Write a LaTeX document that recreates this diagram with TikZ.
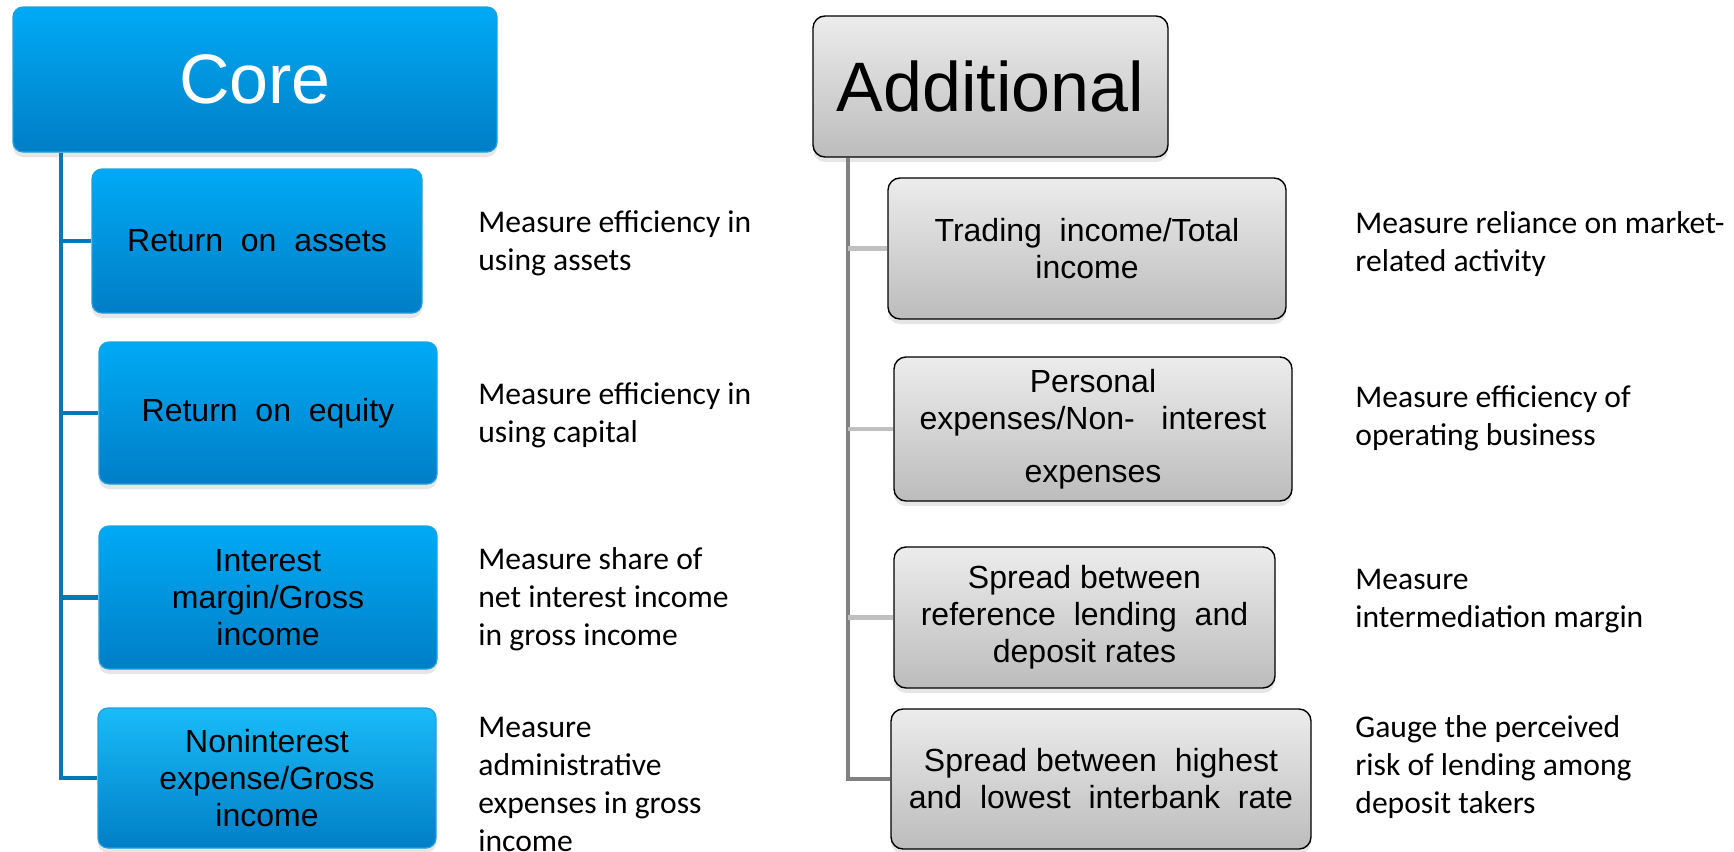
\documentclass[tikz,border=0pt]{standalone}
\usepackage{fontspec}
\setmainfont{Liberation Sans}
\newfontfamily\notefont{Carlito}
\usetikzlibrary{shadows}

\definecolor{blueTop}{RGB}{0,170,245}
\definecolor{blueBot}{RGB}{0,126,198}
\definecolor{blueLite}{RGB}{25,188,248}
\definecolor{blueEdge}{RGB}{30,160,225}
\definecolor{blueLine}{RGB}{0,122,182}
\definecolor{grayTop}{RGB}{236,236,236}
\definecolor{grayBot}{RGB}{188,188,188}
\definecolor{grayLine}{RGB}{128,128,128}
\definecolor{grayLite}{RGB}{192,192,192}

\tikzset{
  boxsize/.style 2 args={minimum width=#1*0.5pt, minimum height=#2*0.5pt},
  bluebox/.style={rounded corners=5pt, draw=blueEdge, line width=0.6pt,
    top color=blueTop, bottom color=blueBot, inner sep=0pt, align=center,
    drop shadow={shadow xshift=0pt, shadow yshift=-2.5pt, opacity=0.2},
    font=\fontsize{16}{18.5}\selectfont},
  graybox/.style={rounded corners=6pt, draw=black, line width=0.7pt,
    top color=grayTop, bottom color=grayBot, inner sep=0pt, align=center,
    drop shadow={shadow xshift=0pt, shadow yshift=-2.5pt, opacity=0.2},
    font=\fontsize{16}{18.5}\selectfont},
  note/.style={anchor=base west, align=left, inner sep=0pt,
    font=\notefont\fontsize{15.8}{19}\selectfont},
  coreline/.style={draw=blueLine, line width=2.4pt},
  addline/.style={draw=grayLine, line width=2.4pt},
  addbranch/.style={draw=grayLite, line width=2.4pt}
}

\begin{document}
\begin{tikzpicture}[x=0.5pt, y=-0.5pt]

  \useasboundingbox (0,0) rectangle (1734,851);

  %--- Spines ---
  \coordinate (lspine) at (61,0);
  \coordinate (rspine) at (848,0);

  %--- Core side ---
  \node[bluebox, boxsize={484}{145}, text=white,
        font=\fontsize{35}{40}\selectfont] (core) at (255,79.5) {Core};
  \node[bluebox, boxsize={330}{144}] (roa) at (257,241) {Return\ \ on\ \ assets};
  \node[bluebox, boxsize={338}{142}] (roe) at (268,413) {Return\ \ on\ \ equity};
  \node[bluebox, boxsize={338}{143}] (nim) at (268,597.5) {Interest\\margin/Gross\\income};
  \node[bluebox, boxsize={338}{140}, top color=blueLite] (nie) at (267,778)
    {Noninterest\\expense/Gross\\income};

  %--- Additional side ---
  \node[graybox, boxsize={355}{141},
        font=\fontsize{35}{40}\selectfont] (add) at (990.5,86.5) {Additional};
  \node[graybox, boxsize={398}{141}] (trd) at (1087,248.5) {Trading\ \ income/Total\\income};
  \node[graybox, boxsize={398}{144}] (pers) at (1093,429)
    {Personal\\expenses/Non-\ \ \ interest\\[8pt]expenses};
  \node[graybox, boxsize={381}{141}] (sref) at (1084.5,617.5)
    {Spread between\\reference\ \ lending\ \ and\\deposit rates};
  \node[graybox, boxsize={420}{140}] (shi) at (1101,779)
    {Spread between\ \ highest\\and\ \ lowest\ \ interbank\ \ rate};

  %--- Connectors ---
  \draw[coreline] (core.south -| lspine) -- (lspine |- nie.west) -- (nie.west);
  \foreach \b in {roa,roe,nim}
    \draw[coreline] (lspine |- \b.west) -- (\b.west);
  \draw[addline] (add.south -| rspine) -- (rspine |- shi.west) -- (shi.west);
  \foreach \b in {trd,pers,sref}
    \draw[addbranch] (rspine |- \b.west) -- (\b.west);

  %--- Notes (placed at the baseline of their last line) ---
  \node[note] (nroa) at (478,270) {Measure efficiency in\\using assets};
  \node[note] (nroe) at (478,442) {Measure efficiency in\\using capital};
  \node[note] (nnim) at (478,645) {Measure share of\\net interest income\\in gross income};
  \node[note] (nnie) at (478,851) {Measure\\administrative\\expenses in gross\\income};
  \node[note] (ntrd) at (1355,271) {Measure reliance on market-\\related activity};
  \node[note] (npers) at (1355,445) {Measure efficiency of\\operating business};
  \node[note] (nsref) at (1355,627) {Measure\\intermediation margin};
  \node[note] (nshi) at (1355,813) {Gauge the perceived\\risk of lending among\\deposit takers};

\end{tikzpicture}
\end{document}
